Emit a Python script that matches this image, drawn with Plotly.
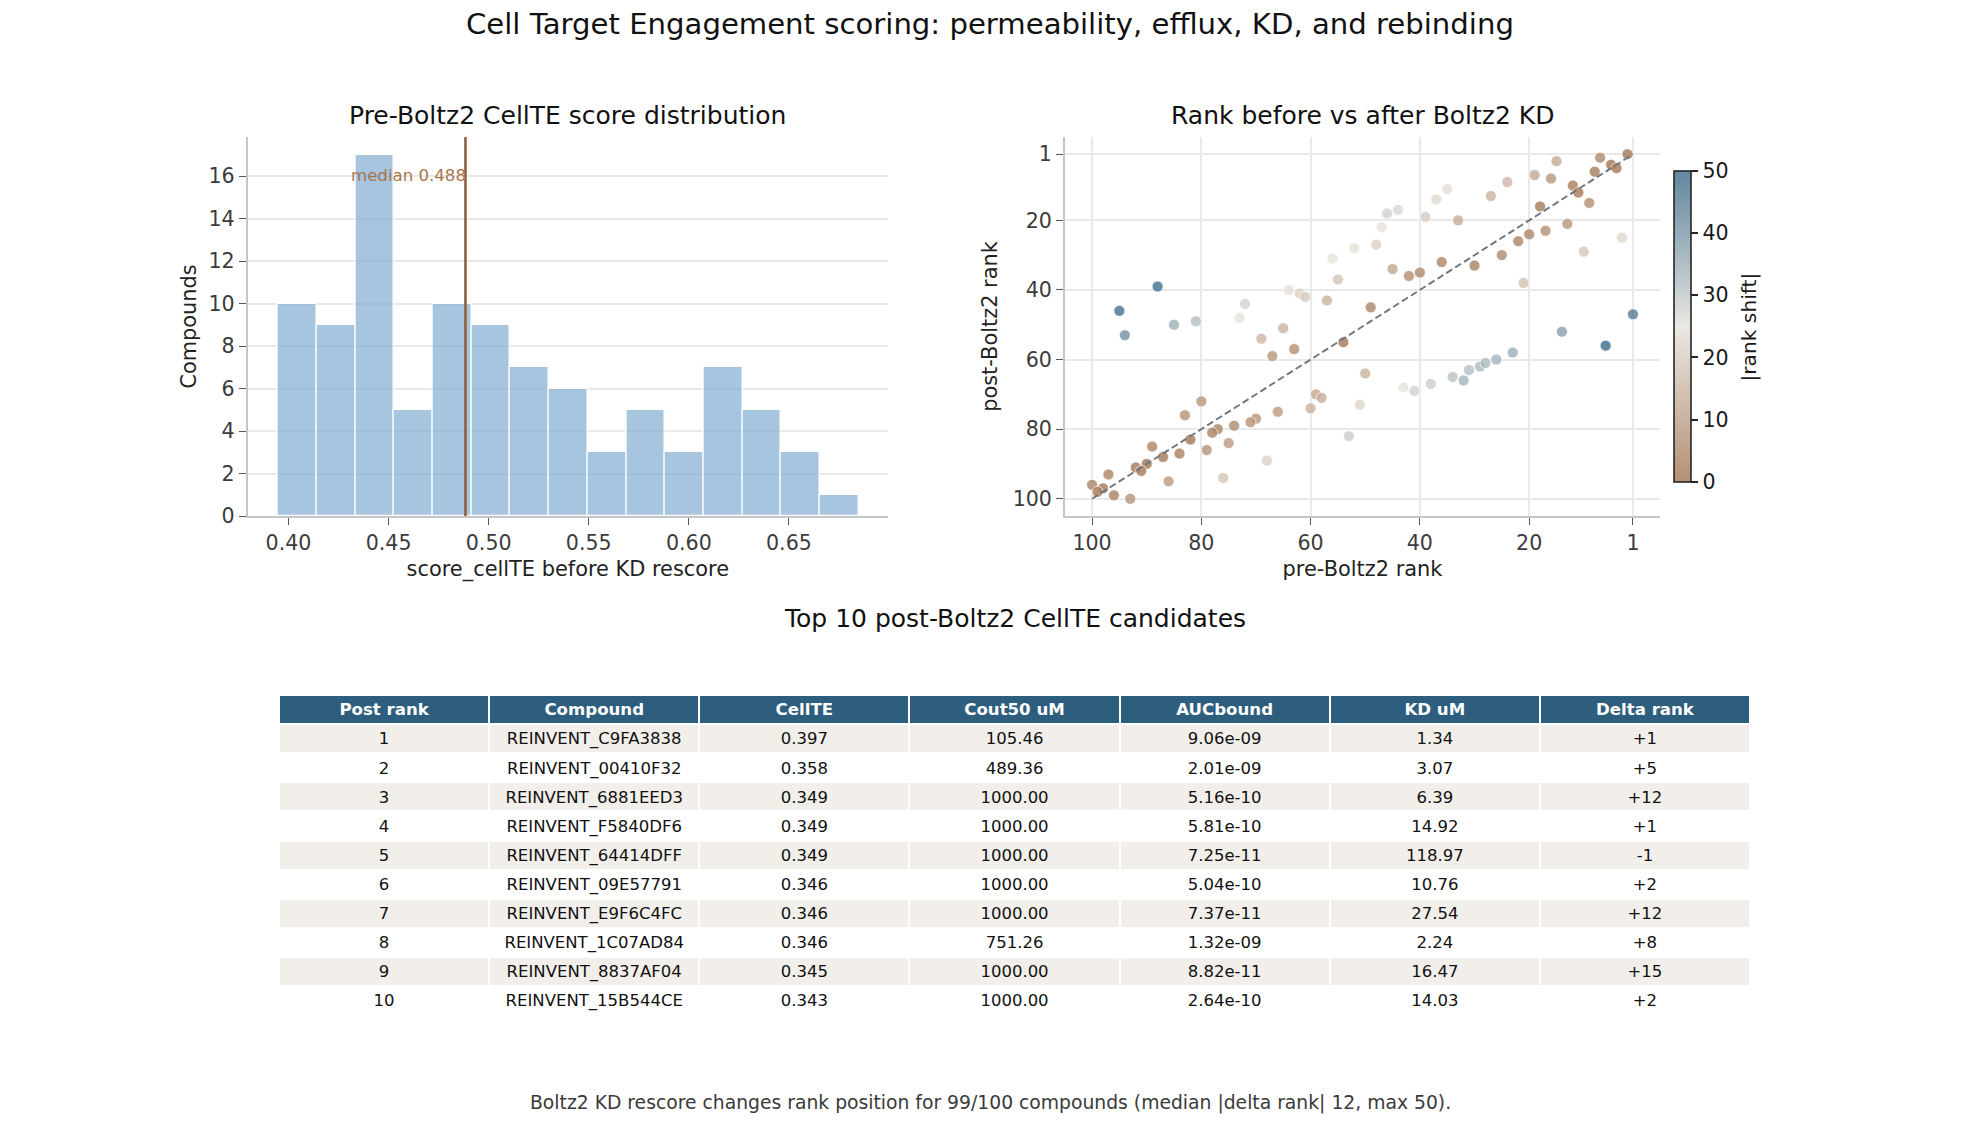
import plotly.graph_objects as go

W, H = 1980, 1140

# Histogram
bin_left = 0.3947
bin_width = 0.01934
bin_counts = [10, 9, 17, 5, 10, 9, 7, 6, 3, 5, 3, 7, 5, 3, 1]
median_score = 0.4884

# Rank scatter
pre_rank = [95, 94, 88, 85, 81, 72, 73, 69, 65, 67, 63, 64, 62, 61, 57, 55, 56, 54, 52, 49, 48, 47, 46, 44, 45,
            42, 40, 39, 37, 35, 36, 33, 30, 50, 43, 41, 38, 34, 32, 31, 29, 59, 58, 51, 60, 66, 70, 71, 74, 77,
            78, 80, 83, 82, 79, 75, 53, 68, 76, 86, 89, 87, 84, 90, 92, 91, 97, 98, 100, 99, 96, 93,
            2, 7, 15, 5, 4, 8, 19, 16, 24, 12, 11, 27, 9, 18, 13, 17, 20, 22, 3, 10, 25, 21, 1, 14, 6, 23, 26, 28]
post_rank = [46, 53, 39, 50, 49, 44, 48, 54, 51, 59, 57, 40, 41, 42, 43, 37, 31, 55, 28, 45, 27, 22, 18, 17, 34,
             36, 35, 19, 14, 11, 32, 20, 33, 64, 68, 69, 67, 65, 66, 63, 62, 70, 71, 73, 74, 75, 77, 78, 79, 80,
             81, 72, 76, 83, 86, 84, 82, 89, 94, 95, 85, 88, 87, 90, 91, 92, 93, 97, 96, 98, 99, 100,
             1, 2, 3, 4, 5, 6, 7, 8, 9, 10, 12, 13, 15, 16, 21, 23, 24, 26, 25, 29, 30, 38, 47, 52, 56, 58, 60, 61]
rank_shift = [abs(a - b) for a, b in zip(pre_rank, post_rank)]
rank_ticks = [100, 80, 60, 40, 20, 1]

# Table
table_headers = ["Post rank", "Compound", "CellTE", "Cout50 uM", "AUCbound", "KD uM", "Delta rank"]
post_ranks = ["1", "2", "3", "4", "5", "6", "7", "8", "9", "10"]
compounds = ["REINVENT_C9FA3838", "REINVENT_00410F32", "REINVENT_6881EED3", "REINVENT_F5840DF6", "REINVENT_64414DFF",
             "REINVENT_09E57791", "REINVENT_E9F6C4FC", "REINVENT_1C07AD84", "REINVENT_8837AF04", "REINVENT_15B544CE"]
cellte = ["0.397", "0.358", "0.349", "0.349", "0.349", "0.346", "0.346", "0.346", "0.345", "0.343"]
cout50 = ["105.46", "489.36", "1000.00", "1000.00", "1000.00", "1000.00", "1000.00", "751.26", "1000.00", "1000.00"]
aucbound = ["9.06e-09", "2.01e-09", "5.16e-10", "5.81e-10", "7.25e-11", "5.04e-10", "7.37e-11", "1.32e-09", "8.82e-11", "2.64e-10"]
kd_um = ["1.34", "3.07", "6.39", "14.92", "118.97", "10.76", "27.54", "2.24", "16.47", "14.03"]
delta_rank = ["+1", "+5", "+12", "+1", "-1", "+2", "+12", "+8", "+15", "+2"]

FONT = "DejaVu Sans"
GRID = "#e9e9ea"
SPINE = "#c3c6ca"
TICK_SIZE = 20.6
LABEL_SIZE = 20.9


def fx(px):
    return px / W


def fy(py):
    return 1 - py / H


fig = go.Figure()

bar_x = [bin_left + bin_width * (i + 0.5) for i in range(len(bin_counts))]
fig.add_trace(go.Bar(x=bar_x, y=bin_counts, width=bin_width, xaxis="x", yaxis="y",
                     marker=dict(color="rgba(126,170,207,0.68)", line=dict(color="white", width=1.2)),
                     showlegend=False))
fig.add_trace(go.Scatter(x=[median_score, median_score], y=[0, 1], xaxis="x", yaxis="y3", mode="lines",
                         line=dict(color="#8f5f3e", width=2.6), showlegend=False))

fig.add_trace(go.Scatter(x=pre_rank, y=post_rank, mode="markers", xaxis="x2", yaxis="y2", showlegend=False,
                         marker=dict(size=11, color=rank_shift, cmin=0, cmax=50,
                                     colorscale=[[0, "rgba(166,124,91,0.85)"], [0.5, "rgba(232,228,222,0.85)"],
                                                 [1, "rgba(47,96,128,0.75)"]],
                                     line=dict(color="white", width=0.7),
                                     colorbar=dict(x=fx(1673.5), xanchor="left", xref="paper", thickness=16.5,
                                                   thicknessmode="pixels", len=311, lenmode="pixels",
                                                   y=fy(481.7), yanchor="bottom", yref="paper", ypad=0, xpad=0,
                                                   outlinecolor="#262626", outlinewidth=1.6,
                                                   ticks="outside", ticklen=7, tickwidth=1.6, tickcolor="#262626",
                                                   tickvals=[0, 10, 20, 30, 40, 50],
                                                   tickfont=dict(family=FONT, size=TICK_SIZE, color="#1a1a1a")))))
fig.add_trace(go.Scatter(x=[100, 1], y=[100, 1], mode="lines", xaxis="x2", yaxis="y2", showlegend=False,
                         line=dict(color="#6b7580", width=1.9, dash="7px,3.5px")))

fig.add_trace(go.Table(
    domain=dict(x=[fx(279), fx(1750)], y=[fy(1017), fy(695)]),
    columnwidth=[1] * 7,
    header=dict(values=table_headers, height=29.1, align="center",
                fill_color="#2e5e7e", line=dict(color="white", width=2),
                font=dict(family=FONT, size=16.6, color="white", weight="bold")),
    cells=dict(values=[post_ranks, compounds, cellte, cout50, aucbound, kd_um, delta_rank], height=29.1, align="center",
               fill_color=[["#f2efeb" if i % 2 == 0 else "white" for i in range(10)]] * 7,
               line=dict(color="white", width=2),
               font=dict(family=FONT, size=16.5, color="#111111"))))


def axis_style(**kw):
    base = dict(showline=True, linecolor=SPINE, linewidth=1.8, ticks="outside", ticklen=7, tickwidth=1.4,
                tickcolor="#555a60", tickfont=dict(family=FONT, size=TICK_SIZE, color="#3c3c3c"),
                gridcolor=GRID, gridwidth=1.5, zeroline=False, mirror=False)
    base.update(kw)
    return base


def axis_title(text, standoff):
    return dict(text=text, font=dict(family=FONT, size=LABEL_SIZE, color="#222222"), standoff=standoff)


fig.update_layout(
    width=W, height=H, margin=dict(l=0, r=0, t=0, b=0, autoexpand=False), paper_bgcolor="white", plot_bgcolor="white",
    font=dict(family=FONT), bargap=0,
    xaxis=axis_style(domain=[fx(247.7), fx(888)], range=[0.3796, 0.6995], tickvals=[0.40, 0.45, 0.50, 0.55, 0.60, 0.65],
                     tickformat=".2f", showgrid=False, anchor="y", title=axis_title("score_cellTE before KD rescore", 8)),
    yaxis=axis_style(domain=[fy(516), fy(137)], range=[0, 17.85], tickvals=list(range(0, 17, 2)), showgrid=True, anchor="x",
                     title=axis_title("Compounds", 6.5)),
    yaxis3=dict(domain=[fy(516), fy(137)], range=[0, 1], overlaying="y", visible=False, anchor="x"),
    xaxis2=axis_style(domain=[fx(1065), fx(1660)], range=[104.95, -3.95], tickvals=rank_ticks, showgrid=True, anchor="y2",
                      title=axis_title("pre-Boltz2 rank", 8)),
    yaxis2=axis_style(domain=[fy(516), fy(137)], range=[104.95, -3.95], tickvals=rank_ticks, showgrid=True, anchor="x2",
                      title=axis_title("post-Boltz2 rank", 9)),
)


def label(text, cx, cy, size, color="#111111", **kw):
    fig.add_annotation(text=text, x=fx(cx), y=fy(cy), xref="paper", yref="paper", showarrow=False,
                       xanchor=kw.pop("xanchor", "center"), yanchor="middle",
                       font=dict(family=FONT, size=size, color=color), **kw)


label("Cell Target Engagement scoring: permeability, efflux, KD, and rebinding", 990, 24, 29.15)
label("Pre-Boltz2 CellTE score distribution", 567.5, 115.5, 25)
label("Rank before vs after Boltz2 KD", 1362, 115.5, 25)
label("Top 10 post-Boltz2 CellTE candidates", 1014.5, 618.5, 25)
label("Boltz2 KD rescore changes rank position for 99/100 compounds (median |delta rank| 12, max 50).", 990, 1102.5, 18.75, "#3a3a3a")
label("median 0.488", 467.5, 175.5, 16.6, "#a9754f", xanchor="right")
label("|rank shift|", 1749, 327.5, 20.2, "#1a1a1a", textangle=-90)

fig.write_html("out.html", config={"displayModeBar": False}, post_script="document.body.style.margin='0';")
